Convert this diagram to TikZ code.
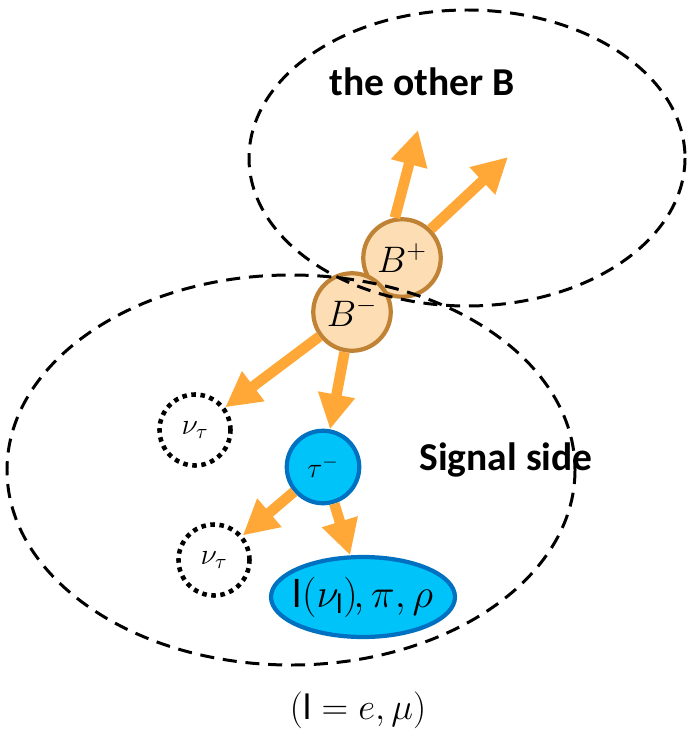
\RequirePackage{fix-cm}
\documentclass[tikz,border=0pt]{standalone}
\usepackage{amsmath}
\usepackage{fontspec}
\setmainfont{Carlito}
\usetikzlibrary{arrows.meta,shapes.geometric}
\definecolor{arrorange}{RGB}{255,168,56}
\definecolor{bfill}{RGB}{252,221,180}
\definecolor{bborder}{RGB}{192,130,52}
\definecolor{taufill}{RGB}{0,195,250}
\definecolor{tauborder}{RGB}{0,112,192}
\tikzset{
  bcirc/.style={circle,draw=bborder,fill=bfill,line width=2.4pt,minimum size=1.55cm,inner sep=0pt,font=\fontsize{21}{24}\selectfont},
  taucirc/.style={circle,draw=tauborder,fill=taufill,line width=2.4pt,minimum size=1.45cm,inner sep=0pt,font=\fontsize{16}{18}\selectfont},
  nucirc/.style={circle,draw=black,line width=2.6pt,dash pattern=on 2.6pt off 2.6pt,minimum size=1.42cm,inner sep=0pt,font=\fontsize{17}{19}\selectfont},
  finalell/.style={ellipse,draw=tauborder,fill=taufill,line width=2.4pt,minimum width=3.68cm,minimum height=1.6cm,inner sep=0pt,font=\fontsize{23}{26}\selectfont},
  arr/.style={draw=arrorange,line width=6pt,-{Triangle[width=20pt,length=20pt]},arrorange},
  dashell/.style={draw=black,line width=1.7pt,dash pattern=on 8pt off 5pt},
  boldlabel/.style={font=\bfseries\fontsize{22.5}{26}\selectfont},
}
\begin{document}
\begin{tikzpicture}[x=0.02cm,y=-0.02cm]
\useasboundingbox (0,0) rectangle (687,729);
% nodes
\node[bcirc] (bp) at (402,258) {$B^+$};
\node[bcirc] (bm) at (352,312) {$B^-$};
\node[taucirc] (tau) at (323,467) {$\tau^-$};
\node[nucirc] (nu1) at (195,430) {$\nu_\tau$};
\node[nucirc] (nu2) at (214,560) {$\nu_\tau$};
\node[finalell] (fin) at (363,597) {\makebox[0pt]{$\text{l}(\nu_{\text{l}})\mkern-2mu,\pi,\rho$}};
\coordinate (tipA) at (418,130);
\coordinate (tipB) at (508,157);
% arrows
\draw[arr] (bp.100) -- (tipA);
\draw[arr] (bp.45) -- (tipB);
\draw[arr] (bm) -- (nu1);
\draw[arr] (bm) -- (tau);
\draw[arr] (tau) -- (nu2);
\draw[arr] (tau) -- (fin);
% labels
\node[boldlabel] (other) at (422,82) {the other B};
\node[boldlabel] (signal) at (506,460) {Signal side};
\node[font=\fontsize{21}{24}\selectfont] (note) at (358,710) {$(\text{l} = e,\mu)$};
% dashed regions
\draw[dashell] (467,158) ellipse [x radius=218,y radius=148];
\draw[dashell] (291,470) ellipse [x radius=284,y radius=195];
\end{tikzpicture}
\end{document}
